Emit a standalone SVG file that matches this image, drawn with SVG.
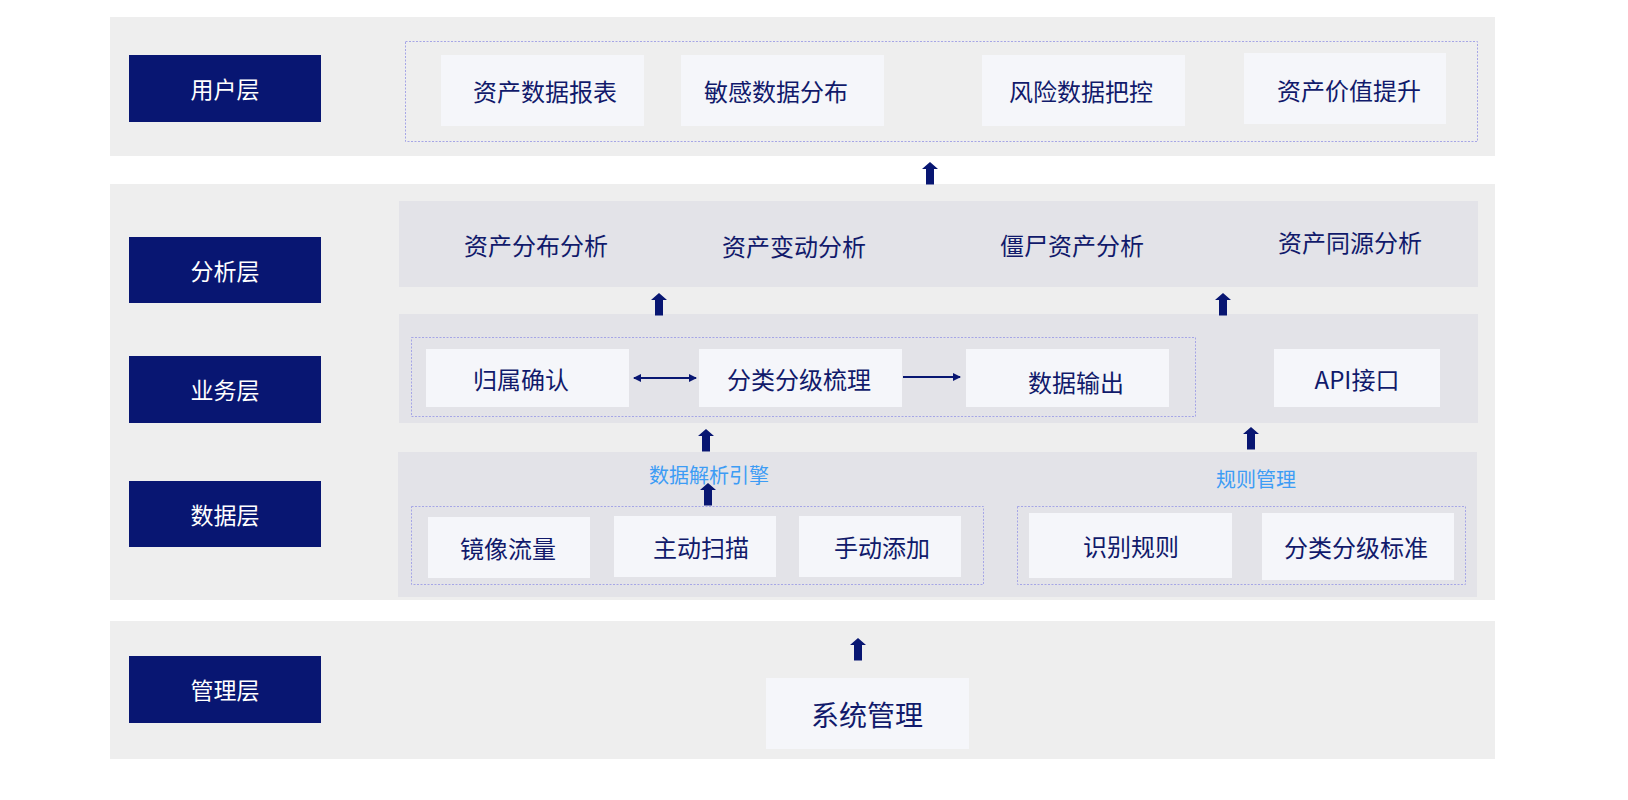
<svg xmlns="http://www.w3.org/2000/svg" width="1628" height="800" viewBox="0 0 1628 800">
<style>
.panel{fill:#eeeeee}
.inner{fill:#e3e3e8}
.dash{fill:none;stroke:#a6a6e6;stroke-width:1;stroke-dasharray:2 1.5}
.lbl{fill:#081672}
.lt{fill:#ffffff;font-family:"Noto Sans CJK SC","Noto Sans",sans-serif;font-size:23px;text-anchor:middle;dominant-baseline:central}
.box{fill:#f5f6fa}
.t{fill:#111a6b;font-family:"Noto Sans CJK SC","Noto Sans",sans-serif;font-size:24px;text-anchor:middle;dominant-baseline:central}
.blue{fill:#3d9cf5;font-family:"Noto Sans CJK SC","Noto Sans",sans-serif;font-size:20px;text-anchor:middle;dominant-baseline:central}
.arr{fill:#081672}
.hl{stroke:#081672;stroke-width:2;fill:none}
</style>
<defs>
<path id="up" d="M0,0 L8,7 L4,7 L4,22.5 L-4,22.5 L-4,7 L-8,7 Z"/>
<marker id="ah" viewBox="0 0 8 8" refX="7" refY="4" markerWidth="8" markerHeight="8" markerUnits="userSpaceOnUse" orient="auto-start-reverse">
<path d="M0,0 L8,4 L0,8 Z" fill="#081672"/>
</marker>
</defs>

<g id="panels">
<rect class="panel" x="110" y="17" width="1385" height="139"/>
<rect class="panel" x="110" y="184" width="1385" height="416"/>
<rect class="panel" x="110" y="621" width="1385" height="138"/>
<rect class="inner" x="399" y="201" width="1079" height="86"/>
<rect class="inner" x="399" y="314" width="1079" height="109"/>
<rect class="inner" x="398" y="452" width="1079" height="145"/>
<rect class="dash" x="405.5" y="41.5" width="1072" height="100"/>
<rect class="dash" x="411.5" y="337.5" width="784" height="79"/>
<rect class="dash" x="411.5" y="506.5" width="572" height="78"/>
<rect class="dash" x="1017.5" y="506.5" width="448" height="78"/>
</g>

<g id="layer-user"><rect class="lbl" x="129" y="55" width="192" height="67"/><text class="lt" x="225" y="88">用户层</text></g>
<g id="layer-analysis"><rect class="lbl" x="129" y="237" width="192" height="66"/><text class="lt" x="225" y="270">分析层</text></g>
<g id="layer-business"><rect class="lbl" x="129" y="356" width="192" height="67"/><text class="lt" x="225" y="389">业务层</text></g>
<g id="layer-data"><rect class="lbl" x="129" y="481" width="192" height="66"/><text class="lt" x="225" y="514">数据层</text></g>
<g id="layer-mgmt"><rect class="lbl" x="129" y="656" width="192" height="67"/><text class="lt" x="225" y="689">管理层</text></g>

<g id="n-report"><rect class="box" x="441" y="55" width="203" height="71"/><text class="t" x="545" y="90">资产数据报表</text></g>
<g id="n-sensitive"><rect class="box" x="681" y="55" width="203" height="71"/><text class="t" x="776" y="90">敏感数据分布</text></g>
<g id="n-risk"><rect class="box" x="982" y="55" width="203" height="71"/><text class="t" x="1081" y="90">风险数据把控</text></g>
<g id="n-value"><rect class="box" x="1244" y="53" width="202" height="71"/><text class="t" x="1349" y="89">资产价值提升</text></g>

<g id="n-dist"><text class="t" x="536" y="244">资产分布分析</text></g>
<g id="n-change"><text class="t" x="794" y="245">资产变动分析</text></g>
<g id="n-zombie"><text class="t" x="1072" y="244">僵尸资产分析</text></g>
<g id="n-homo"><text class="t" x="1350" y="241">资产同源分析</text></g>

<g id="n-owner"><rect class="box" x="426" y="349" width="203" height="58"/><text class="t" x="521" y="378">归属确认</text></g>
<g id="n-classify"><rect class="box" x="699" y="349" width="203" height="58"/><text class="t" x="799" y="378">分类分级梳理</text></g>
<g id="n-output"><rect class="box" x="966" y="349" width="203" height="58"/><text class="t" x="1076" y="381">数据输出</text></g>
<g id="n-api"><rect class="box" x="1274" y="349" width="166" height="58"/><text class="t" x="1357" y="378">API接口</text></g>

<g id="n-engine"><text class="blue" x="709" y="474">数据解析引擎</text></g>
<g id="n-rulemgmt"><text class="blue" x="1256" y="478">规则管理</text></g>

<g id="n-mirror"><rect class="box" x="428" y="517" width="162" height="61"/><text class="t" x="508" y="547">镜像流量</text></g>
<g id="n-scan"><rect class="box" x="614" y="516" width="162" height="61"/><text class="t" x="701" y="546">主动扫描</text></g>
<g id="n-manual"><rect class="box" x="799" y="516" width="162" height="61"/><text class="t" x="882" y="546">手动添加</text></g>
<g id="n-rule"><rect class="box" x="1029" y="513" width="203" height="65"/><text class="t" x="1131" y="545">识别规则</text></g>
<g id="n-standard"><rect class="box" x="1262" y="513" width="192" height="67"/><text class="t" x="1356" y="546">分类分级标准</text></g>

<g id="n-sys"><rect class="box" x="766" y="678" width="203" height="71"/><text class="t" x="867" y="714" style="font-size:28px">系统管理</text></g>

<g id="connectors">
<use href="#up" class="arr" x="930" y="162"/>
<use href="#up" class="arr" x="659" y="293"/>
<use href="#up" class="arr" x="1223" y="293"/>
<use href="#up" class="arr" x="706" y="429"/>
<use href="#up" class="arr" x="1251" y="427"/>
<use href="#up" class="arr" x="708" y="483"/>
<use href="#up" class="arr" x="858" y="638"/>
<line class="hl" x1="634" y1="378" x2="696" y2="378" marker-start="url(#ah)" marker-end="url(#ah)"/>
<line class="hl" x1="903" y1="377" x2="960" y2="377" marker-end="url(#ah)"/>
</g>
</svg>
